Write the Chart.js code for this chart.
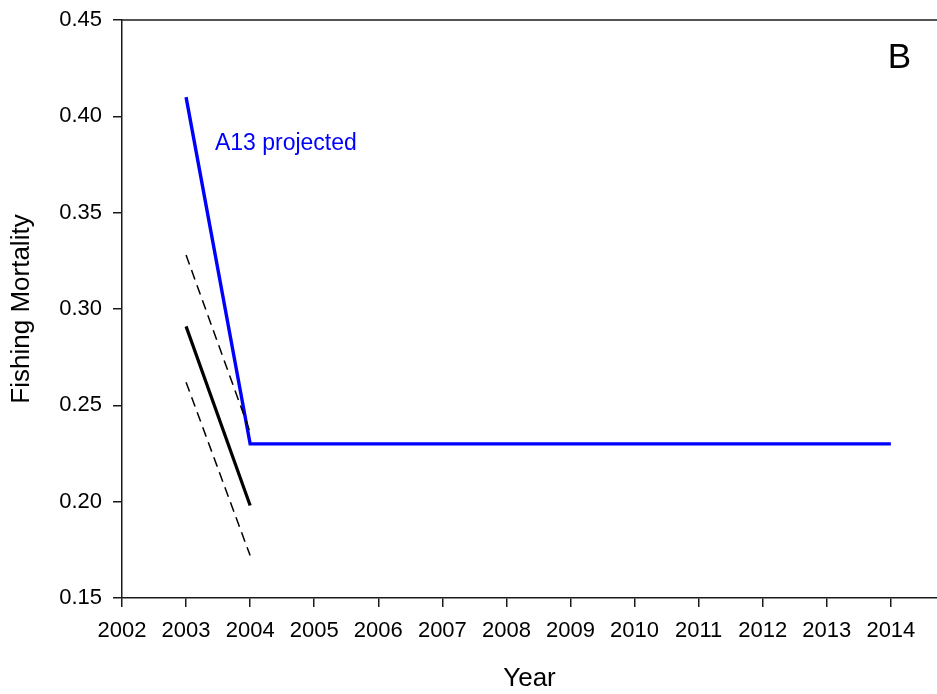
<!DOCTYPE html>
<html>
<head>
<meta charset="utf-8">
<script src="https://cdn.jsdelivr.net/npm/chart.js@4/dist/chart.umd.min.js"></script>
<style>
  html, body { margin: 0; padding: 0; background: #ffffff; }
  #wrap { width: 937px; height: 694px; }
</style>
</head>
<body>
<div id="wrap"><canvas id="chart" width="937" height="694"></canvas></div>
<script>
// Fishing mortality: assessment estimate (with bounds) and the A13 projection
const years = [2003, 2004, 2005, 2006, 2007, 2008, 2009, 2010, 2011, 2012, 2013, 2014];
const projectedA13 = [0.41, 0.23, 0.23, 0.23, 0.23, 0.23, 0.23, 0.23, 0.23, 0.23, 0.23, 0.23];

const estimateYears = [2003, 2004];
const estimateF = [0.291, 0.198];
const upperF = [0.328, 0.236];
const lowerF = [0.262, 0.172];

const yTicks = [0.15, 0.20, 0.25, 0.30, 0.35, 0.40, 0.45];
const xTicks = [2002, 2003, 2004, 2005, 2006, 2007, 2008, 2009, 2010, 2011, 2012, 2013, 2014];

const FONT = "Arial, 'Liberation Sans', Helvetica, sans-serif";

function pts(xs, ys) {
  return xs.map((x, i) => ({ x: x, y: ys[i] }));
}

// Top frame line and the in-plot labels
const decorations = {
  id: 'decorations',
  afterDraw(chart) {
    const { ctx, chartArea, scales } = chart;
    ctx.save();
    ctx.strokeStyle = '#1a1a1a';
    ctx.lineWidth = 1.5;
    ctx.beginPath();
    ctx.moveTo(chartArea.left, chartArea.top);
    ctx.lineTo(chartArea.right, chartArea.top);
    ctx.stroke();

    ctx.textBaseline = 'middle';
    ctx.textAlign = 'left';
    ctx.fillStyle = '#0000ff';
    ctx.font = '23px ' + FONT;
    ctx.fillText('A13 projected', scales.x.getPixelForValue(2003.45), scales.y.getPixelForValue(0.386));

    ctx.fillStyle = '#000000';
    ctx.font = '35px ' + FONT;
    ctx.fillText('B', scales.x.getPixelForValue(2013.95), scales.y.getPixelForValue(0.430));
    ctx.restore();
  }
};

new Chart(document.getElementById('chart'), {
  type: 'scatter',
  data: {
    datasets: [
      {
        label: 'Upper bound',
        data: pts(estimateYears, upperF),
        showLine: true,
        borderColor: '#000000',
        borderWidth: 1.5,
        borderDash: [10, 6],
        pointRadius: 0,
        fill: false
      },
      {
        label: 'Lower bound',
        data: pts(estimateYears, lowerF),
        showLine: true,
        borderColor: '#000000',
        borderWidth: 1.5,
        borderDash: [10, 6],
        pointRadius: 0,
        fill: false
      },
      {
        label: 'Estimate',
        data: pts(estimateYears, estimateF),
        showLine: true,
        borderColor: '#000000',
        borderWidth: 3.2,
        pointRadius: 0,
        fill: false
      },
      {
        label: 'A13 projected',
        data: pts(years, projectedA13),
        showLine: true,
        borderColor: '#0000ff',
        borderWidth: 3.4,
        pointRadius: 0,
        fill: false
      }
    ]
  },
  options: {
    responsive: false,
    animation: false,
    layout: { padding: { top: 20, right: 0, bottom: 0, left: 0 } },
    plugins: {
      legend: { display: false },
      tooltip: { enabled: false }
    },
    scales: {
      x: {
        type: 'linear',
        min: 2002,
        max: 2014.72,
        afterBuildTicks(scale) { scale.ticks = xTicks.map(v => ({ value: v })); },
        afterFit(scale) { scale.height = 96; scale.paddingLeft = 0; scale.paddingRight = 0; },
        ticks: {
          color: '#000000',
          font: { family: FONT, size: 22 },
          padding: 11,
          maxRotation: 0,
          callback: v => String(v)
        },
        grid: {
          drawOnChartArea: false,
          drawTicks: true,
          tickLength: 9,
          color: '#1a1a1a',
          lineWidth: 1.5
        },
        border: { display: true, color: '#1a1a1a', width: 1.5 },
        title: {
          display: true,
          text: 'Year',
          color: '#000000',
          font: { family: FONT, size: 26 },
          padding: 0
        }
      },
      y: {
        min: 0.15,
        max: 0.45,
        afterBuildTicks(scale) { scale.ticks = yTicks.map(v => ({ value: v })); },
        afterFit(scale) { scale.width = 122; scale.paddingTop = 0; scale.paddingBottom = 0; },
        ticks: {
          color: '#000000',
          font: { family: FONT, size: 22 },
          padding: 11,
          callback: v => Number(v).toFixed(2)
        },
        grid: {
          drawOnChartArea: false,
          drawTicks: true,
          tickLength: 9,
          color: '#1a1a1a',
          lineWidth: 1.5
        },
        border: { display: true, color: '#1a1a1a', width: 1.5 },
        title: {
          display: true,
          text: 'Fishing Mortality',
          color: '#000000',
          font: { family: FONT, size: 26 },
          padding: 6
        }
      }
    }
  },
  plugins: [decorations]
});
</script>
</body>
</html>
